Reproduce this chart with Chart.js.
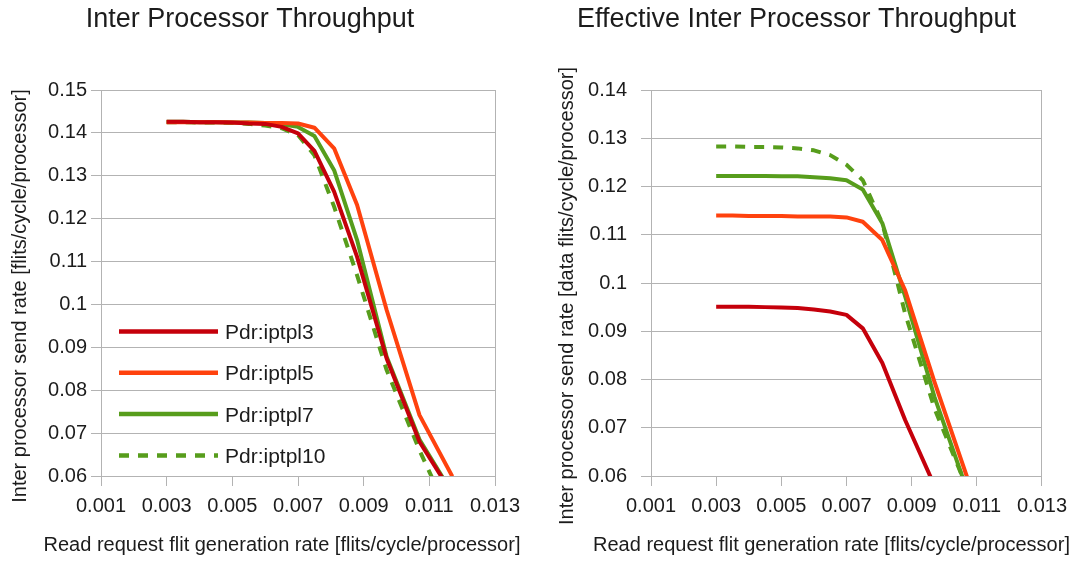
<!DOCTYPE html>
<html>
<head>
<meta charset="utf-8">
<script src="https://cdn.jsdelivr.net/npm/chart.js@4.4.0/dist/chart.umd.min.js"></script>
<style>
  html, body { margin: 0; padding: 0; background: #fff; }
  .panel { position: absolute; top: 0; height: 563px; }
  #left { left: 0; width: 537px; }
  #right { left: 537px; width: 538px; }
</style>
</head>
<body>
<div class="panel" id="left"><canvas id="throughput-chart"></canvas></div>
<div class="panel" id="right"><canvas id="effective-chart"></canvas></div>
<script>
// read request flit generation rate (x) for every sample
const genRates = [0.003, 0.0035, 0.004, 0.0045, 0.005, 0.0055, 0.006, 0.0065, 0.007, 0.0075, 0.0081, 0.0088, 0.0097, 0.0107, 0.0117];
const seriesNames = ['Pdr:iptpl3', 'Pdr:iptpl5', 'Pdr:iptpl7', 'Pdr:iptpl10'];

// Inter Processor Throughput
const sendRate3  = [0.1426, 0.1426, 0.1425, 0.1425, 0.1424, 0.1422, 0.1421, 0.1414, 0.1399, 0.1358, 0.1263, 0.1111, 0.0874, 0.0680, 0.0558];
const sendRate5  = [0.1425, 0.1425, 0.1425, 0.1425, 0.1424, 0.1424, 0.1423, 0.1423, 0.1422, 0.1412, 0.1364, 0.1232, 0.0987, 0.0742, 0.0599];
const sendRate7  = [0.1426, 0.1426, 0.1425, 0.1425, 0.1424, 0.1424, 0.1423, 0.1420, 0.1414, 0.1393, 0.1313, 0.1150, 0.0878, 0.0685, 0.0560];
const sendRate10 = [0.1425, 0.1425, 0.1424, 0.1424, 0.1423, 0.1421, 0.1417, 0.1411, 0.1395, 0.1348, 0.1228, 0.1068, 0.0847, 0.0660, 0.0493];

// Effective Inter Processor Throughput
const effRate3  = [0.0951, 0.0951, 0.0951, 0.0950, 0.0949, 0.0948, 0.0945, 0.0941, 0.0934, 0.0906, 0.0834, 0.0716, 0.0580];
const effRate5  = [0.1140, 0.1140, 0.1139, 0.1139, 0.1139, 0.1138, 0.1138, 0.1138, 0.1136, 0.1127, 0.1089, 0.0985, 0.0795, 0.0598];
const effRate7  = [0.1222, 0.1222, 0.1222, 0.1222, 0.1221, 0.1221, 0.1219, 0.1217, 0.1213, 0.1194, 0.1124, 0.0972, 0.0764, 0.0571];
const effRate10 = [0.1283, 0.1283, 0.1282, 0.1282, 0.1281, 0.1279, 0.1275, 0.1265, 0.1245, 0.1213, 0.1124, 0.0937, 0.0740, 0.0575];

const FONT = "'Liberation Sans', Arial, sans-serif";
const TEXT = '#1c1c1c';
const GRID = '#b3b3b3';
const colors = ['#c5000b', '#ff420e', '#579d1c', '#579d1c'];

function toPoints(values) {
    return values.map((y, i) => ({ x: genRates[i], y: y }));
}

function makeDatasets(lists) {
    return lists.map((values, i) => ({
        label: seriesNames[i],
        data: toPoints(values),
        borderColor: colors[i],
        backgroundColor: colors[i],
        borderWidth: 4,
        borderDash: i === 3 ? [10, 9] : [],
        borderJoinStyle: 'round',
        pointRadius: 0,
        showLine: true,
        tension: 0
    }));
}

// titles, axis titles and the in-plot legend
const sheetText = {
    id: 'sheetText',
    afterDraw(chart, args, opts) {
        const ctx = chart.ctx;
        ctx.save();
        ctx.fillStyle = TEXT;
        ctx.textAlign = 'center';
        ctx.textBaseline = 'alphabetic';
        ctx.font = '27px ' + FONT;
        ctx.fillText(opts.title, opts.titleX, 27);
        ctx.font = '20px ' + FONT;
        ctx.fillText(opts.xTitle, opts.xTitleX, 551);
        ctx.save();
        ctx.translate(opts.yTitleX, 296);
        ctx.rotate(-Math.PI / 2);
        ctx.fillText(opts.yTitle, 0, 0);
        ctx.restore();

        if (opts.legend) {
            chart.data.datasets.forEach((ds, i) => {
                const y = 331.5 + i * 41.3;
                ctx.strokeStyle = ds.borderColor;
                ctx.lineWidth = 4.5;
                ctx.setLineDash(ds.borderDash);
                ctx.beginPath();
                ctx.moveTo(119, y);
                ctx.lineTo(218, y);
                ctx.stroke();
                ctx.setLineDash([]);
                ctx.font = '21px ' + FONT;
                ctx.textAlign = 'left';
                ctx.fillText(ds.label, 225, y + 7.5);
            });
        }
        ctx.restore();
    }
};

function makeOptions(cfg) {
    return {
        responsive: true,
        maintainAspectRatio: false,
        animation: false,
        layout: { padding: { top: 90, right: cfg.padRight, left: 0, bottom: 0 } },
        plugins: {
            legend: { display: false },
            title: { display: false },
            tooltip: { enabled: false },
            sheetText: cfg.text
        },
        scales: {
            x: {
                type: 'linear',
                min: 0.001,
                max: 0.013,
                afterFit: s => { s.height = 87; },
                ticks: {
                    stepSize: 0.002,
                    padding: 8,
                    color: TEXT,
                    font: { family: FONT, size: 20 },
                    maxRotation: 0,
                    callback: v => String(+v.toFixed(4))
                },
                grid: {
                    color: c => (c.tick && c.tick.value > 0.0129 ? GRID : 'rgba(0,0,0,0)'),
                    tickColor: GRID,
                    tickLength: 10,
                    lineWidth: 1
                },
                border: { color: GRID }
            },
            y: {
                min: cfg.yMin,
                max: cfg.yMax,
                afterFit: s => { s.width = cfg.yWidth; },
                ticks: {
                    stepSize: 0.01,
                    padding: cfg.tickPad,
                    color: TEXT,
                    font: { family: FONT, size: 20 },
                    callback: v => String(+v.toFixed(4))
                },
                grid: { color: GRID, tickColor: GRID, tickLength: 10, lineWidth: 1 },
                border: { color: GRID }
            }
        }
    };
}

new Chart(document.getElementById('throughput-chart'), {
    type: 'scatter',
    data: { datasets: makeDatasets([sendRate3, sendRate5, sendRate7, sendRate10]) },
    options: makeOptions({
        padRight: 42, yWidth: 101, tickPad: 4, yMin: 0.06, yMax: 0.15,
        text: {
            title: 'Inter Processor Throughput', titleX: 250,
            xTitle: 'Read request flit generation rate [flits/cycle/processor]', xTitleX: 282,
            yTitle: 'Inter processor send rate [flits/cycle/processor]', yTitleX: 25.5,
            legend: true
        }
    }),
    plugins: [sheetText]
});

new Chart(document.getElementById('effective-chart'), {
    type: 'scatter',
    data: { datasets: makeDatasets([effRate3, effRate5, effRate7, effRate10]) },
    options: makeOptions({
        padRight: 31, yWidth: 114, tickPad: 14, yMin: 0.06, yMax: 0.14,
        text: {
            title: 'Effective Inter Processor Throughput', titleX: 259.5,
            xTitle: 'Read request flit generation rate [flits/cycle/processor]', xTitleX: 294.5,
            yTitle: 'Inter processor send rate [data flits/cycle/processor]', yTitleX: 36,
            legend: false
        }
    }),
    plugins: [sheetText]
});
</script>
</body>
</html>
